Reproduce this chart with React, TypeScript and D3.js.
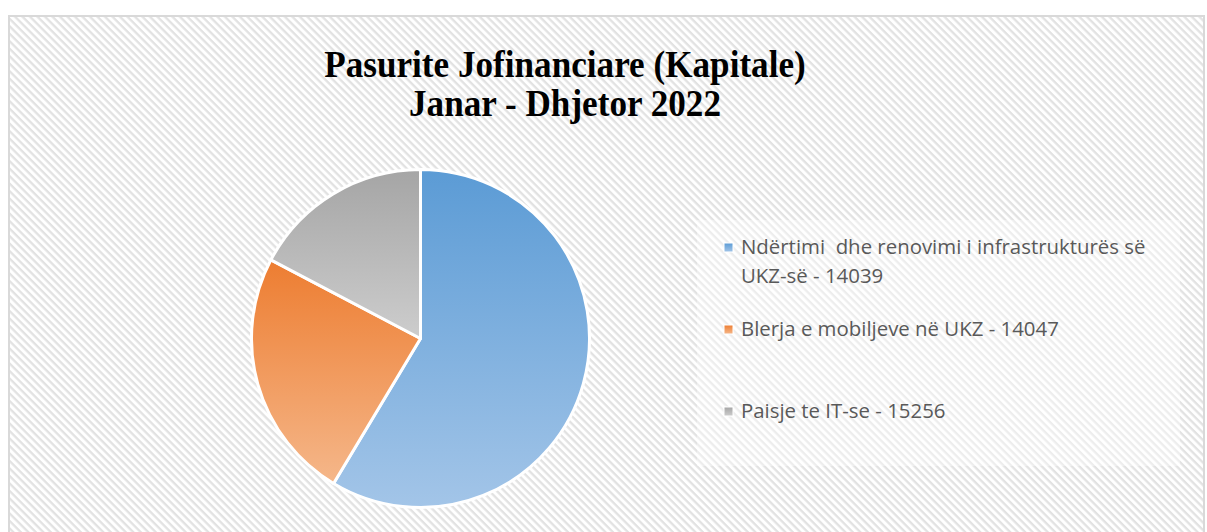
import React from "react";
import * as d3 from "d3";

const categories = [
  "Ndërtimi  dhe renovimi i infrastrukturës së UKZ-së - 14039",
  "Blerja e mobiljeve në UKZ - 14047",
  "Paisje te IT-se - 15256",
];
const values = [58.6, 24.1, 17.3];
const titleLines = ["Pasurite Jofinanciare (Kapitale)", "Janar - Dhjetor 2022"];
const darkColors = ["#5B9BD5", "#ED7D31", "#A5A5A5"];
const lightColors = ["#A3C5E8", "#F5B78A", "#CDCDCD"];

const W = 1207;
const H = 532;

function wrap(label: string, maxChars: number): string[] {
  const words = label.split(" ");
  const lines: string[] = [];
  let cur = "";
  for (const w of words) {
    const next = cur === "" ? w : cur + " " + w;
    if (next.length > maxChars && cur !== "") {
      lines.push(cur);
      cur = w;
    } else {
      cur = next;
    }
  }
  if (cur !== "") lines.push(cur);
  return lines;
}

export default function App() {
  const cx = 420.5;
  const cy = 338.5;
  const r = 169;
  const pie = d3.pie<number>().sort(null).startAngle(0).endAngle(2 * Math.PI);
  const arcs = pie(values);
  const arcGen = d3.arc<d3.PieArcDatum<number>>().innerRadius(0).outerRadius(r);

  const legendX = 724;
  const legendY0 = 254;
  const legendStep = 82;
  const lineH = 29;
  const titleX = 565;

  return (
    <div style={{ position: "absolute", left: 0, top: 0 }}>
      <svg width={W} height={H} style={{ display: "block" }}>
        <defs>
          <pattern id="stripes" width="5.3" height="5.3" patternUnits="userSpaceOnUse" patternTransform="rotate(45)">
            <rect width="5.3" height="5.3" fill="#ffffff" />
            <rect width="5.3" height="2.3" fill="#e2e2e2" />
          </pattern>
          {darkColors.map((c, i) => (
            <linearGradient key={i} id={`g${i}`} x1="0" y1="0" x2="0" y2="1">
              <stop offset="0" stopColor={c} />
              <stop offset="1" stopColor={lightColors[i]} />
            </linearGradient>
          ))}
        </defs>
        <rect x={0} y={0} width={W} height={H} fill="#ffffff" />
        <rect x={9} y={16} width={1195} height={H} fill="url(#stripes)" stroke="#d9d9d9" strokeWidth={2} />
        <g transform={`translate(${titleX},0) scale(0.95,1)`}>
          <text
            textAnchor="middle"
            fontFamily="'Liberation Serif', 'Times New Roman', serif"
            fontWeight="bold"
            fontSize={37}
            fill="#000000"
          >
            {titleLines.map((t, i) => (
              <tspan key={i} x={0} y={77 + i * 39}>
                {t}
              </tspan>
            ))}
          </text>
        </g>
        <g transform={`translate(${cx},${cy})`}>
          {arcs.map((a, i) => (
            <path key={i} d={arcGen(a) || ""} fill={`url(#g${i})`} stroke="#ffffff" strokeWidth={3} strokeLinejoin="round" />
          ))}
        </g>
        <rect x={697} y={220} width={483} height={246} fill="#ffffff" fillOpacity={0.4} />
        {categories.map((c, i) => {
          const lines = wrap(c, 44);
          const by = legendY0 + i * legendStep;
          return (
            <g key={i}>
              <rect x={legendX} y={by - 11} width={9} height={9} fill={`url(#g${i})`} stroke="#ffffff" strokeWidth={1} />
              <text
                x={legendX + 17}
                y={by}
                fontFamily="'Open Sans', Lato, sans-serif"
                fontSize={20.4}
                fill="#595959"
                style={{ whiteSpace: "pre" }}
              >
                {lines.map((l, j) => (
                  <tspan key={j} x={legendX + 17} y={by + j * lineH}>
                    {l}
                  </tspan>
                ))}
              </text>
            </g>
          );
        })}
      </svg>
    </div>
  );
}
